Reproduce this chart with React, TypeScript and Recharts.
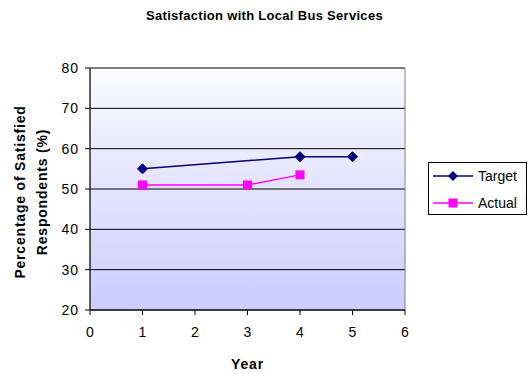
import React from "react";
import {
  LineChart,
  Line,
  XAxis,
  YAxis,
  CartesianGrid,
  ReferenceArea,
  Label,
} from "recharts";

const years = [0, 1, 2, 3, 4, 5, 6];
const yTicks = [20, 30, 40, 50, 60, 70, 80];
const targetYears = [1, 4, 5];
const targetValues = [55, 58, 58];
const actualYears = [1, 3, 4];
const actualValues = [51, 51, 53.5];

const NAVY = "#000080";
const PINK = "#ff00ff";
const FONT = "Arial, 'Liberation Sans', sans-serif";

const targetData = targetYears.map((y, i) => ({ year: y, value: targetValues[i] }));
const actualData = actualYears.map((y, i) => ({ year: y, value: actualValues[i] }));

function Diamond(props: any) {
  const { cx, cy } = props;
  if (cx == null || cy == null) return null;
  const r = 5;
  return (
    <path
      d={`M${cx},${cy - r} L${cx + r},${cy} L${cx},${cy + r} L${cx - r},${cy} Z`}
      fill={NAVY}
      stroke={NAVY}
    />
  );
}

function Square(props: any) {
  const { cx, cy } = props;
  if (cx == null || cy == null) return null;
  return <rect x={cx - 4.5} y={cy - 4.5} width={9} height={9} fill={PINK} />;
}

function LegendBox() {
  const rows = [
    { name: "Target", color: NAVY, marker: "diamond", top: 4 },
    { name: "Actual", color: PINK, marker: "square", top: 31 },
  ];
  return (
    <div
      style={{
        position: "absolute",
        left: 428,
        top: 162,
        width: 97,
        height: 51,
        border: "1px solid #000",
        background: "#fff",
        fontFamily: FONT,
        fontSize: 14,
      }}
    >
      {rows.map((r) => (
        <div
          key={r.name}
          style={{ position: "absolute", left: 4, top: r.top, height: 18, display: "flex", alignItems: "center" }}
        >
          <svg width={45} height={12}>
            <line x1={0} y1={6} x2={40} y2={6} stroke={r.color} strokeWidth={1.5} />
            {r.marker === "diamond" ? (
              <path d="M20,1 L25,6 L20,11 L15,6 Z" fill={r.color} />
            ) : (
              <rect x={15.5} y={1.5} width={9} height={9} fill={r.color} />
            )}
          </svg>
          <span style={{ color: "#000" }}>{r.name}</span>
        </div>
      ))}
    </div>
  );
}

function YTitle(props: any) {
  const { viewBox } = props;
  const cy = viewBox.y + viewBox.height / 2 + 3;
  return (
    <g fontFamily={FONT} fontSize={14} fontWeight="bold" fill="#000" textAnchor="middle" letterSpacing={0.8}>
      <text transform={`translate(25,${cy}) rotate(-90)`}>Percentage of Satisfied</text>
      <text transform={`translate(47,${cy}) rotate(-90)`}>Respondents (%)</text>
    </g>
  );
}

function XTitle(props: any) {
  const { viewBox } = props;
  return (
    <text
      x={viewBox.x + viewBox.width / 2}
      y={369}
      textAnchor="middle"
      fontFamily={FONT}
      fontSize={14}
      fontWeight="bold"
      letterSpacing={0.8}
      fill="#000"
    >
      Year
    </text>
  );
}

export default function App() {
  return (
    <div style={{ position: "absolute", left: 0, top: 0, width: 529, height: 374, background: "#fff" }}>
      <div
        style={{
          position: "absolute",
          top: 8,
          width: 529,
          textAlign: "center",
          fontFamily: FONT,
          fontSize: 13,
          fontWeight: "bold",
          letterSpacing: 0.3,
        }}
      >
        Satisfaction with Local Bus Services
      </div>
      <LineChart
        width={529}
        height={374}
        margin={{ top: 68, right: 124, bottom: 24, left: 30 }}
      >
        <defs>
          <linearGradient id="plotBg" x1="0" y1="0" x2="0" y2="1">
            <stop offset="0%" stopColor="#fafaff" />
            <stop offset="100%" stopColor="#ccccff" />
          </linearGradient>
        </defs>
        <CartesianGrid
          vertical={false}
          stroke="#000"
          strokeWidth={1}
          fill="url(#plotBg)"
          fillOpacity={1}
        />
        <ReferenceArea
          x1={0}
          x2={6}
          y1={20}
          y2={80}
          fill="none"
          stroke="#808080"
          strokeWidth={1}
          ifOverflow="visible"
        />
        <XAxis
          type="number"
          dataKey="year"
          domain={[0, 6]}
          ticks={years}
          interval={0}
          stroke="#000"
          tickSize={5}
          tickMargin={12}
          height={40}
          tick={{ fill: "#000", fontSize: 14, fontFamily: FONT }}
        >
          <Label content={<XTitle />} />
        </XAxis>
        <YAxis
          type="number"
          domain={[20, 80]}
          ticks={yTicks}
          interval={0}
          stroke="#000"
          tickSize={5}
          tickMargin={6}
          width={60}
          tick={{ fill: "#000", fontSize: 14, fontFamily: FONT, letterSpacing: 1 }}
        >
          <Label content={<YTitle />} />
        </YAxis>
        <Line
          data={targetData}
          dataKey="value"
          name="Target"
          stroke={NAVY}
          strokeWidth={1.5}
          dot={<Diamond />}
          activeDot={false}
          isAnimationActive={false}
        />
        <Line
          data={actualData}
          dataKey="value"
          name="Actual"
          stroke={PINK}
          strokeWidth={1.5}
          dot={<Square />}
          activeDot={false}
          isAnimationActive={false}
        />
      </LineChart>
      <LegendBox />
    </div>
  );
}
